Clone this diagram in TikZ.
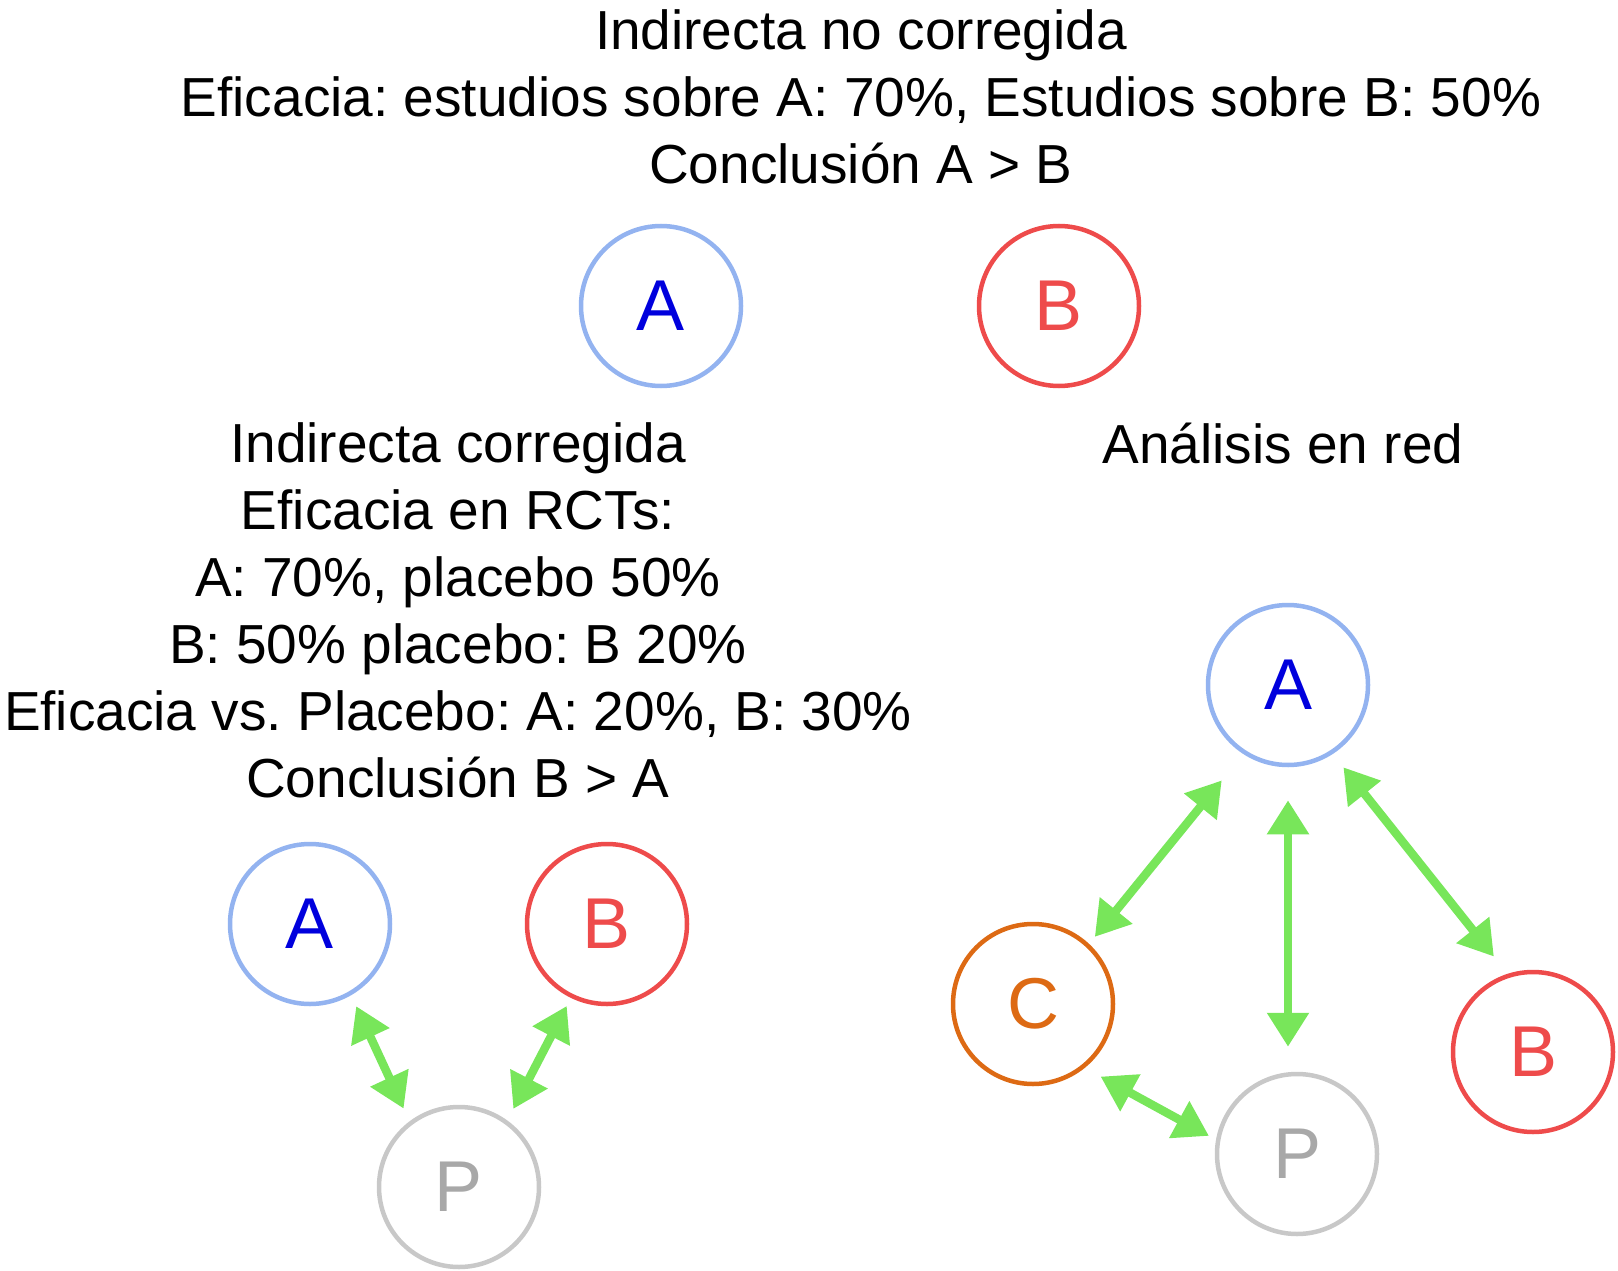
\documentclass[tikz,border=0pt]{standalone}
\usepackage{fontspec}
\setmainfont{Liberation Sans}
\usetikzlibrary{arrows.meta}
\frenchspacing
\definecolor{aring}{HTML}{93B3F0}
\definecolor{atext}{HTML}{0000DD}
\definecolor{bred}{HTML}{EE4B4B}
\definecolor{corange}{HTML}{DD6A14}
\definecolor{pgray}{HTML}{C8C8C8}
\definecolor{ptext}{HTML}{A8A8A8}
\definecolor{agreen}{HTML}{78E65A}
\tikzset{
  ring/.style={circle, draw, line width=4.5pt, minimum size=160pt, inner sep=0pt,
    font=\fontsize{72}{84}\selectfont},
  ringA/.style={ring, draw=aring, text=atext},
  ringB/.style={ring, draw=bred, text=bred},
  ringC/.style={ring, draw=corange, text=corange},
  ringP/.style={ring, draw=pgray, text=ptext},
  lbl/.style={align=center, font=\fontsize{55}{67}\selectfont\frenchspacing, inner sep=0pt},
  dbl/.style={draw=agreen, line width=8.5pt,
    {Triangle[length=34pt,width=40pt]}-{Triangle[length=34pt,width=40pt]}}
}
\begin{document}
\begin{tikzpicture}[x=1pt,y=-1pt]
\useasboundingbox (0,0) rectangle (1618,1271);
% top
\node[lbl] (ttl) at (861,97) {Indirecta no corregida\\Eficacia: estudios sobre A: 70\%, Estudios sobre B: 50\%\\Conclusión A > B};
\node[ringA] (tA) at (661,306) {A};
\node[ringB] (tB) at (1059,306) {B};
% left
\node[lbl] (ltl) at (458,610) {Indirecta corregida\\Eficacia en RCTs:\\A: 70\%, placebo 50\%\\B: 50\% placebo: B 20\%\\Eficacia vs. Placebo: A: 20\%, B: 30\%\\Conclusión B > A};
\node[ringA] (lA) at (310,924) {A};
\node[ringB] (lB) at (607,924) {B};
\node[ringP] (lP) at (459,1187) {P};
\draw[dbl, shorten <=12pt, shorten >=14pt] (lA.300) -- (lP.127);
\draw[dbl, shorten <=9pt, shorten >=13pt] (lB.244) -- (lP.54);
% right
\node[lbl] (rtl) at (1283,444) {Análisis en red};
\node[ringA] (rA) at (1288,685) {A};
\node[ringC] (rC) at (1033,1004) {C};
\node[ringP] (rP) at (1297,1154) {P};
\node[ringB] (rB) at (1533,1052) {B};
\draw[dbl, shorten <=34pt, shorten >=9pt] (rA.237) -- (rC.47);
\draw[dbl, shorten <=33pt, shorten >=25pt] (rA.south) -- (rA.south |- rP.north);
\draw[dbl, shorten <=17pt, shorten >=22pt] (rA.303) -- (rB.108);
\draw[dbl, shorten <=18pt, shorten >=8pt] (rC.309) -- (rP.170);
\end{tikzpicture}
\end{document}
